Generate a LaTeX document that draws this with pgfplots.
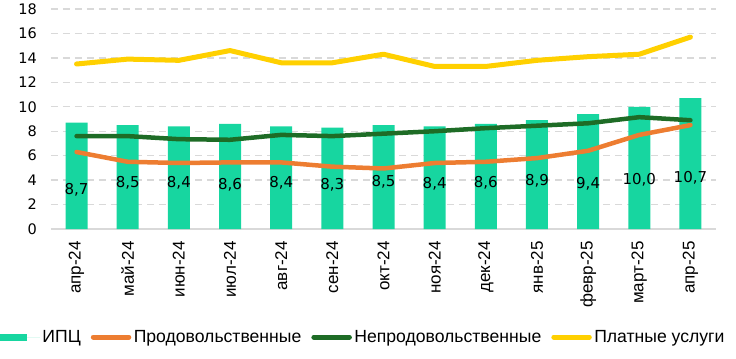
\documentclass[border=0pt]{standalone}
\usepackage{fontspec}
\setmainfont{Liberation Sans}
\newfontfamily\dejavu{DejaVu Sans}
\usepackage{pgfplots}
\usepackage{pgfplotstable}
\pgfplotsset{compat=1.18}
\definecolor{cteal}{RGB}{23,214,160}
\definecolor{corange}{RGB}{237,125,49}
\definecolor{cgreen}{RGB}{30,108,38}
\definecolor{cyellow}{RGB}{255,208,0}
\definecolor{cgrid}{RGB}{217,217,217}
\pgfplotstableread{
x ipc food nonfood serv lab laby
0 8.7 6.3 7.6 13.5 8,7 3.2
1 8.5 5.5 7.6 13.9 8,5 3.8
2 8.4 5.4 7.35 13.8 8,4 3.8
3 8.6 5.45 7.3 14.6 8,6 3.6
4 8.4 5.45 7.7 13.6 8,4 3.8
5 8.3 5.1 7.6 13.6 8,3 3.6
6 8.5 4.95 7.8 14.3 8,5 3.9
7 8.4 5.4 8.0 13.3 8,4 3.7
8 8.6 5.5 8.25 13.3 8,6 3.8
9 8.9 5.8 8.45 13.8 8,9 3.95
10 9.4 6.4 8.65 14.1 9,4 3.7
11 10.0 7.7 9.15 14.3 10,0 4.0
12 10.7 8.5 8.9 15.7 10,7 4.2
}\data
\begin{document}
\begin{tikzpicture}
\begin{axis}[
  name=ax,
  scale only axis,
  width=665bp, height=220bp,
  xmin=-0.5, xmax=12.5,
  ymin=0, ymax=18,
  ytick={0,2,...,18},
  xtick={0,...,12},
  xticklabels={апр-24,май-24,июн-24,июл-24,авг-24,сен-24,окт-24,ноя-24,дек-24,янв-25,февр-25,март-25,апр-25},
  /pgf/number format/assume math mode=true,
  major tick length=0pt,
  axis x line=bottom,
  axis y line=left,
  x axis line style={draw=cgrid, line width=1.5bp, -},
  y axis line style={draw=none},
  ymajorgrids,
  major grid style={draw=cgrid, line width=1.3bp, dash pattern=on 7bp off 5bp},
  yticklabel style={font=\dejavu\fontsize{14.5bp}{16bp}\selectfont, inner sep=0pt, anchor=east, xshift=-14bp, text=black},
  xticklabel style={font=\fontsize{17bp}{20bp}\selectfont, inner sep=0pt, yshift=-12bp, rotate=90, anchor=east, text=black},
  legend columns=4,
  legend cell align=left,
  legend style={draw=none, fill=none, at={(-0.0767,-0.491)}, anchor=west,
    font=\fontsize{17.6bp}{20bp}\selectfont, inner sep=0pt, outer sep=0pt,
    nodes={inner sep=0.5bp},
    /tikz/every even column/.append style={column sep=9.5bp},
    /tikz/every odd column/.append style={column sep=2bp}},
]
\addplot[ybar, bar width=22bp, fill=cteal, draw=none,
  legend image code/.code={\fill[cteal] (0bp,-3.5bp) rectangle (27bp,3.5bp); \path (0bp,0) -- (40bp,0);}]
  table[x=x, y=ipc] {\data};
\addlegendentry{ИПЦ}
\addplot[corange, line width=4.5bp, line join=round, line cap=round,
  legend image code/.code={\draw[corange, line width=5bp, line cap=round] (2.5bp,0) -- (38bp,0);}]
  table[x=x, y=food] {\data};
\addlegendentry{Продовольственные}
\addplot[cgreen, line width=4.5bp, line join=round, line cap=round,
  legend image code/.code={\draw[cgreen, line width=5bp, line cap=round] (2.5bp,0) -- (38bp,0);}]
  table[x=x, y=nonfood] {\data};
\addlegendentry{Непродовольственные}
\addplot[cyellow, line width=5bp, line join=round, line cap=round,
  legend image code/.code={\draw[cyellow, line width=5bp, line cap=round] (2.5bp,0) -- (38bp,0);}]
  table[x=x, y=serv] {\data};
\addlegendentry{Платные услуги}
\addplot[draw=none, mark=none, nodes near coords, point meta=explicit symbolic,
  every node near coord/.append style={anchor=center, font=\dejavu\fontsize{15bp}{18bp}\selectfont, text=black, inner sep=0pt},
  forget plot]
  table[x=x, y=laby, meta=lab] {\data};
\end{axis}
\pgfresetboundingbox
\path ([shift={(-51bp,-130bp)}]ax.south west) rectangle ([shift={(20bp,9bp)}]ax.north east);
\end{tikzpicture}
\end{document}
